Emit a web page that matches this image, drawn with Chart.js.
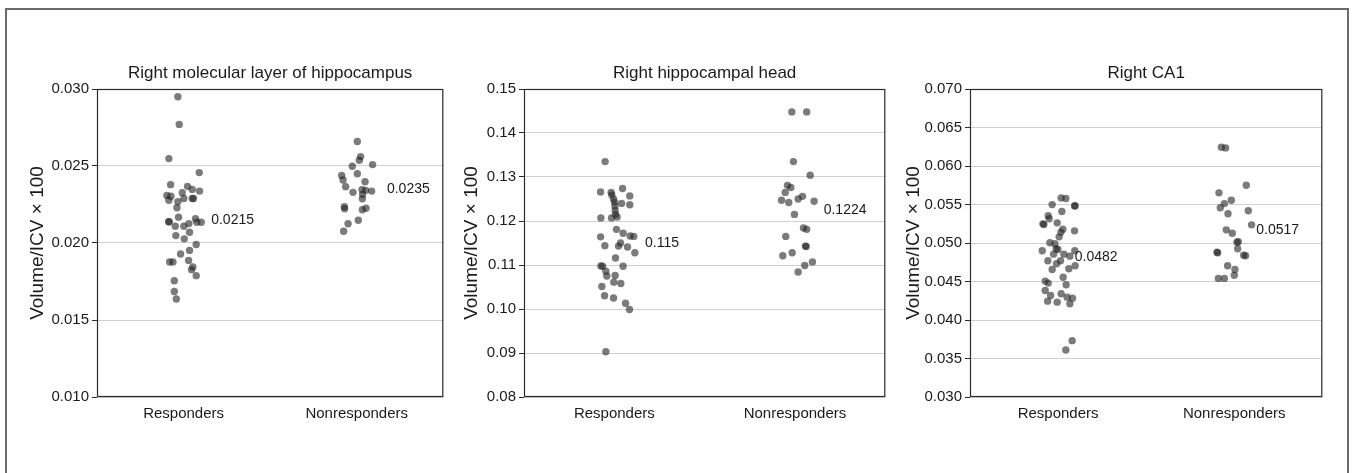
<!DOCTYPE html>
<html><head><meta charset="utf-8">
<script src="https://cdn.jsdelivr.net/npm/chart.js@4.4.0/dist/chart.umd.min.js"></script>
<style>
html,body{margin:0;padding:0;background:#fff;width:1355px;height:473px;overflow:hidden;}
#frame{position:absolute;left:5px;top:8px;width:1344px;height:480px;border:2px solid #6a6a6a;box-sizing:border-box;}
canvas{position:absolute;top:0;}
</style></head><body>
<div id="frame"></div>
<canvas id="c0"></canvas>
<canvas id="c1"></canvas>
<canvas id="c2"></canvas>
<script>
// ---------- DATA ----------
const categories = ['Responders', 'Nonresponders'];
const panelTitles = ['Right molecular layer of hippocampus', 'Right hippocampal head', 'Right CA1'];
const yAxisTitle = 'Volume/ICV \u00d7 100';

// Panel 1: Right molecular layer of hippocampus
const p1RespX = [0.934,0.950,0.830,1.181,0.850,1.046,1.100,1.185,0.985,0.807,0.854,1.003,1.100,1.115,0.830,0.934,0.923,0.942,0.827,0.835,1.138,1.153,1.204,1.061,1.003,0.904,1.069,0.911,1.008,1.146,1.069,0.965,0.839,0.877,1.058,1.107,1.092,1.146,0.893,0.893,0.916];
const p1RespY = [0.0295,0.0277,0.02548,0.02457,0.02379,0.02368,0.02348,0.02337,0.02327,0.02309,0.02304,0.02289,0.02289,0.02289,0.02278,0.02268,0.02229,0.02168,0.02138,0.02138,0.02157,0.02135,0.02135,0.02126,0.02109,0.02109,0.0207,0.02048,0.02027,0.0199,0.01952,0.01929,0.01877,0.01877,0.01887,0.01844,0.01827,0.01788,0.01755,0.01685,0.01636];
const p1NonX = [3.007,3.045,3.030,3.183,2.949,2.826,3.007,2.842,3.096,2.872,3.061,3.103,3.172,2.957,3.068,3.065,2.857,2.860,3.107,3.065,3.018,2.900,2.849];
const p1NonY = [0.02659,0.02561,0.02537,0.02509,0.02498,0.02439,0.0245,0.02409,0.02398,0.02366,0.02346,0.02342,0.02337,0.02329,0.02316,0.02287,0.02235,0.02222,0.02226,0.02216,0.02148,0.02125,0.02076];
const p1Means = ['0.0215', '0.0235'];
const p1MeanX = [1.319, 3.349];
const p1Ticks = [0.010, 0.015, 0.020, 0.025, 0.030];

// Panel 2: Right hippocampal head
const p2RespX = [0.898,0.848,0.965,1.091,0.972,1.171,0.991,1.002,1.080,1.171,1.006,1.009,1.013,0.851,0.969,1.031,1.024,1.097,0.848,1.175,1.215,1.069,0.895,1.046,1.146,1.227,1.013,0.851,0.870,1.097,0.906,0.917,1.009,0.994,1.072,0.862,0.892,0.991,1.124,1.168,0.906];
const p2RespY = [0.1335,0.1266,0.1265,0.1274,0.1259,0.1257,0.1250,0.1243,0.1240,0.1237,0.1234,0.1224,0.1215,0.1207,0.1207,0.1209,0.1181,0.1172,0.1164,0.1166,0.1165,0.1150,0.1144,0.1143,0.1141,0.1128,0.1116,0.1098,0.1097,0.1097,0.1086,0.1075,0.1076,0.1061,0.1058,0.1051,0.1030,0.1025,0.1013,0.0999,0.0903];
const p2NonX = [2.965,3.130,2.983,3.168,2.917,2.954,2.892,3.083,3.035,2.851,2.931,3.212,2.994,3.094,3.130,2.898,3.116,2.969,2.865,3.193,3.108,3.035,3.124];
const p2NonY = [0.1448,0.1448,0.1335,0.1304,0.1281,0.1276,0.1265,0.1256,0.1250,0.1247,0.1242,0.1245,0.1215,0.1184,0.1181,0.1165,0.1143,0.1128,0.1121,0.1107,0.1099,0.1084,0.1142];
const p2Means = ['0.115', '0.1224'];
const p2MeanX = [1.340, 3.318];
const p2Ticks = [0.08, 0.09, 0.10, 0.11, 0.12, 0.13, 0.14, 0.15];

// Panel 3: Right CA1
const p3RespX = [1.035,1.088,0.933,1.194,1.187,1.043,0.888,0.899,0.828,0.839,0.990,1.054,1.187,1.032,1.012,0.907,0.964,0.978,0.820,1.190,0.998,0.949,1.066,1.134,0.884,1.028,0.983,1.194,0.933,1.122,1.058,0.854,0.888,1.092,0.854,0.915,1.035,1.103,1.164,0.881,0.990,1.134,1.160,1.088];
const p3RespY = [0.05586,0.05577,0.05499,0.05483,0.0548,0.05409,0.05353,0.05314,0.05249,0.0524,0.05262,0.05179,0.05158,0.0514,0.0508,0.05003,0.0499,0.04925,0.04899,0.04899,0.04916,0.04855,0.04855,0.04829,0.04769,0.04769,0.0473,0.04704,0.04656,0.04665,0.04556,0.04505,0.04479,0.04458,0.04384,0.04319,0.04341,0.04297,0.04284,0.04245,0.04232,0.04211,0.03732,0.0361];
const p3NonX = [2.854,2.902,3.137,2.827,2.967,2.888,2.842,3.160,2.929,3.197,2.910,2.978,3.046,3.031,3.039,2.804,2.812,3.107,3.129,2.925,3.008,3.001,2.820,2.888];
const p3NonY = [0.06243,0.06235,0.0575,0.05651,0.05555,0.05512,0.05457,0.05418,0.05379,0.05236,0.05171,0.05127,0.05016,0.0501,0.04925,0.04881,0.04873,0.04842,0.04834,0.04704,0.04656,0.04582,0.0454,0.0454];
const p3Means = ['0.0482', '0.0517'];
const p3MeanX = [1.190, 3.251];
const p3Ticks = [0.030, 0.035, 0.040, 0.045, 0.050, 0.055, 0.060, 0.065, 0.070];

const categoryPos = [1, 3];

// ---------- LAYOUT (styles/geometry) ----------
const FONT = "'Liberation Sans', Arial, Helvetica, sans-serif";
const geo = [
  {cx: 22,  L: 97,  R: 444, dec: 3},
  {cx: 456, L: 524, R: 886, dec: 2},
  {cx: 898, L: 970, R: 1323, dec: 3}
];
const TOP = 89, BOTTOM = 397, H = 473, TITLE_BASE = 77.5;

const panels = [
  {rx: p1RespX, ry: p1RespY, nx: p1NonX, ny: p1NonY, means: p1Means, meanX: p1MeanX, ticks: p1Ticks},
  {rx: p2RespX, ry: p2RespY, nx: p2NonX, ny: p2NonY, means: p2Means, meanX: p2MeanX, ticks: p2Ticks},
  {rx: p3RespX, ry: p3RespY, nx: p3NonX, ny: p3NonY, means: p3Means, meanX: p3MeanX, ticks: p3Ticks}
];

const frameBox = {
  id: 'frameBox',
  afterDraw(chart) {
    const a = chart.chartArea, ctx = chart.ctx;
    const p = chart.options.plugins.frameBox;
    ctx.save();
    ctx.strokeStyle = '#2a2a2a';
    ctx.lineWidth = 1.2;
    ctx.strokeRect(a.left + 0.5, a.top + 0.5, a.right - a.left - 1, a.bottom - a.top - 1);
    // panel title centred over the plot area
    ctx.fillStyle = '#1a1a1a';
    ctx.font = '17px ' + FONT;
    ctx.textAlign = 'center';
    ctx.textBaseline = 'alphabetic';
    ctx.fillText(p.title, (a.left + a.right) / 2, TITLE_BASE);
    // mean labels
    ctx.font = '14px ' + FONT;
    ctx.textAlign = 'left';
    ctx.textBaseline = 'middle';
    const xs = chart.scales.x, ys = chart.scales.y;
    p.means.forEach((t, i) => {
      ctx.fillText(t, xs.getPixelForValue(p.meanX[i]), ys.getPixelForValue(parseFloat(t)));
    });
    ctx.restore();
  }
};

panels.forEach((p, i) => {
  const g = geo[i];
  const cv = document.getElementById('c' + i);
  const w = g.R - g.cx + 3;
  cv.width = w; cv.height = H;
  cv.style.left = g.cx + 'px';
  cv.style.width = w + 'px'; cv.style.height = H + 'px';
  const pointStyle = {
    backgroundColor: 'rgba(35,35,35,0.6)',
    borderWidth: 0,
    pointRadius: 3.7,
    pointHoverRadius: 3.7
  };
  new Chart(cv, {
    type: 'scatter',
    data: {
      datasets: [
        Object.assign({label: categories[0], data: p.rx.map((x, k) => ({x: x, y: p.ry[k]}))}, pointStyle),
        Object.assign({label: categories[1], data: p.nx.map((x, k) => ({x: x, y: p.ny[k]}))}, pointStyle)
      ]
    },
    options: {
      responsive: false,
      animation: false,
      events: [],
      layout: {padding: {left: 0, right: 3, top: TOP, bottom: 0}},
      plugins: {
        legend: {display: false},
        tooltip: {enabled: false},
        title: {display: false},
        frameBox: {means: p.means, meanX: p.meanX, title: panelTitles[i]}
      },
      scales: {
        x: {
          type: 'linear', min: 0, max: 4,
          grid: {display: false, drawTicks: false},
          border: {display: false},
          afterBuildTicks: (s) => { s.ticks = categoryPos.map(v => ({value: v})); },
          afterFit: (s) => { s.height = H - BOTTOM; },
          ticks: {
            padding: 8, color: '#1a1a1a', autoSkip: false, maxRotation: 0,
            font: {family: FONT, size: 15},
            callback: (v) => categories[categoryPos.indexOf(v)]
          }
        },
        y: {
          type: 'linear', min: p.ticks[0], max: p.ticks[p.ticks.length - 1],
          afterBuildTicks: (s) => { s.ticks = p.ticks.map(v => ({value: v})); },
          afterFit: (s) => { s.width = g.L - g.cx; },
          grid: {color: '#cfcfcf', lineWidth: 1, tickColor: '#2a2a2a', tickLength: 5, drawTicks: true},
          border: {display: false},
          ticks: {
            padding: 3, color: '#1a1a1a',
            font: {family: FONT, size: 15},
            callback: (v) => Number(v).toFixed(g.dec)
          },
          title: {
            display: true, text: yAxisTitle, color: '#1a1a1a',
            font: {family: FONT, size: 19, lineHeight: 1.2},
            padding: {top: 4, bottom: 0}
          }
        }
      }
    },
    plugins: [frameBox]
  });
});
</script>
</body></html>
